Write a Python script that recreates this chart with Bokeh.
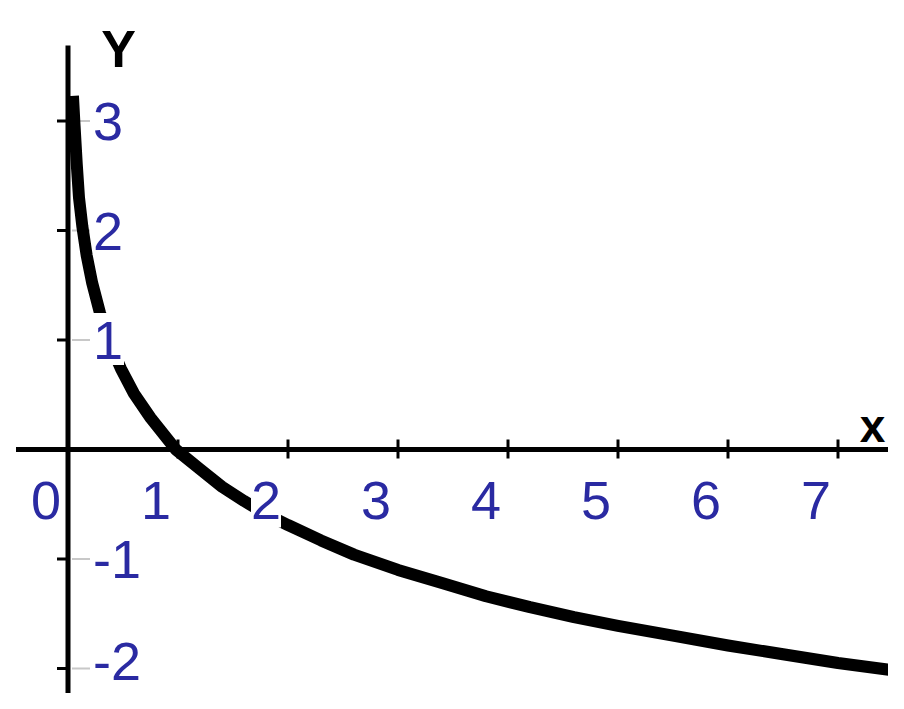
from bokeh.plotting import figure
from bokeh.models import ColumnDataSource, LabelSet, Label, Range1d
from bokeh.core.properties import value
from bokeh.embed import file_html
from bokeh.resources import INLINE

# curve values
curve_x = [0.045, 0.06, 0.08, 0.1, 0.13, 0.17, 0.22, 0.29, 0.38, 0.48, 0.6, 0.75,
           0.98, 1.2, 1.4, 1.6, 1.8, 2.0, 2.3, 2.6, 3.0, 3.4, 3.8, 4.2, 4.6, 5.0,
           5.5, 6.0, 6.5, 7.0, 7.6]
curve_y = [3.23, 2.95, 2.6, 2.3, 2.04, 1.77, 1.52, 1.25, 0.97, 0.74, 0.51, 0.29,
           0.0, -0.18, -0.34, -0.47, -0.59, -0.69, -0.83, -0.96, -1.1, -1.22, -1.34,
           -1.44, -1.53, -1.61, -1.7, -1.79, -1.87, -1.95, -2.03]

x_ticks = [1, 2, 3, 4, 5, 6, 7]
x_tick_labels = ["0", "1", "2", "3", "4", "5", "6", "7"]
x_label_vals = [0, 1, 2, 3, 4, 5, 6, 7]
y_ticks = [3, 2, 1, -1, -2]
y_tick_labels = ["3", "2", "1", "-1", "-2"]

X_PER_PX = 1 / 110.0
Y_PER_PX = 1 / 109.5
X0_PX = 67.5   # pixel of x = 0
Y0_PX = 449.0  # pixel of y = 0
W, H = 888, 693

p = figure(width=W, height=H, output_backend="svg", toolbar_location=None,
           x_range=Range1d(-X0_PX * X_PER_PX, (W - X0_PX) * X_PER_PX),
           y_range=Range1d((Y0_PX - H) * Y_PER_PX, Y0_PX * Y_PER_PX),
           x_axis_location=None, y_axis_location=None, min_border=0)
p.grid.visible = False
p.outline_line_color = None
p.background_fill_color = "white"
p.border_fill_color = "white"

# axes lines
p.line([-52 * X_PER_PX, 8.0], [0, 0], line_color="black", line_width=5)
p.line([0, 0], [404 * Y_PER_PX, -3.0], line_color="black", line_width=5)

# x ticks
p.segment(x0=x_ticks, x1=x_ticks, y0=[-9 * Y_PER_PX] * len(x_ticks),
          y1=[10 * Y_PER_PX] * len(x_ticks), line_color="black", line_width=3)
# y ticks (black part left, faint grey part right)
p.segment(x0=[-11 * X_PER_PX] * len(y_ticks), x1=[0] * len(y_ticks),
          y0=y_ticks, y1=y_ticks, line_color="black", line_width=3)
p.segment(x0=[4 * X_PER_PX] * len(y_ticks), x1=[22 * X_PER_PX] * len(y_ticks),
          y0=y_ticks, y1=y_ticks, line_color="#c8c8c8", line_width=2)

# curve
p.line(curve_x, curve_y, line_color="black", line_width=12, line_join="round")

label_color = "#2a2aa2"

# x tick labels with white boxes behind them
xsrc = ColumnDataSource(dict(x=[v - 22 * X_PER_PX for v in x_label_vals],
                             y=[-69 * Y_PER_PX] * len(x_label_vals),
                             yc=[-48 * Y_PER_PX] * len(x_label_vals),
                             w=[30 * len(t) for t in x_tick_labels],
                             t=x_tick_labels))
p.rect(x="x", y="yc", width="w", height=60, width_units="screen",
       height_units="screen", fill_color="white", line_color=None, source=xsrc)
p.add_layout(LabelSet(x="x", y="y", text="t", source=xsrc, text_align="center",
                      text_baseline="alphabetic", text_font=value("Liberation Sans"),
                      text_font_size="54px", text_color=label_color))

# y tick labels with white boxes behind them (lowest one nudged to stay inside)
yw = [4 + 27 * len(t) for t in y_tick_labels]
ydy = [0, 0, 0, 0, 8]
ysrc = ColumnDataSource(dict(x=[25 * X_PER_PX] * len(y_ticks),
                             xc=[(25 + w / 2) * X_PER_PX for w in yw],
                             y=[v + (d - 19) * Y_PER_PX for v, d in zip(y_ticks, ydy)],
                             yc=[v + (d + 1) * Y_PER_PX for v, d in zip(y_ticks, ydy)],
                             w=yw, t=y_tick_labels))
p.rect(x="xc", y="yc", width="w", height=52, width_units="screen",
       height_units="screen", fill_color="white", line_color=None, source=ysrc)
p.add_layout(LabelSet(x="x", y="y", text="t", source=ysrc, text_align="left",
                      text_baseline="alphabetic", text_font=value("Liberation Sans"),
                      text_font_size="54px", text_color=label_color))

p.add_layout(Label(x=(118 - X0_PX) * X_PER_PX, y=(Y0_PX - 48) * Y_PER_PX, text="Y",
                   text_align="center", text_baseline="alphabetic",
                   text_font="Liberation Sans", text_font_size="52px",
                   text_font_style="bold", text_color="black"))
p.add_layout(Label(x=(872 - X0_PX) * X_PER_PX, y=(Y0_PX - 425) * Y_PER_PX, text="x",
                   text_align="center", text_baseline="alphabetic",
                   text_font="Liberation Sans", text_font_size="46px",
                   text_font_style="bold", text_color="black"))

open("out.html", "w").write(file_html(p, INLINE))
